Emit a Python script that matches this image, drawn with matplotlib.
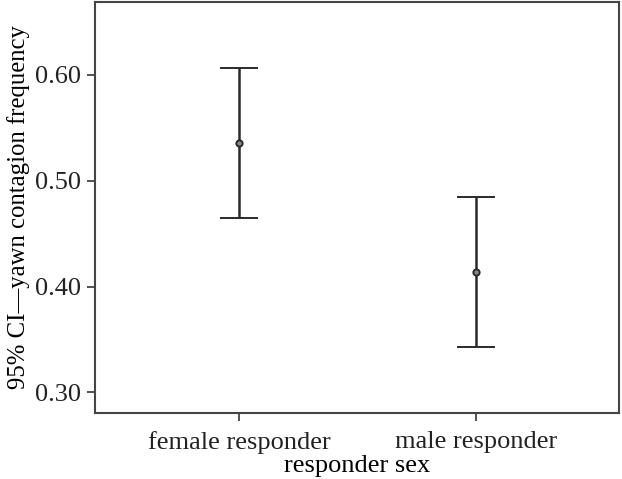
import matplotlib
matplotlib.use("Agg")
import matplotlib.pyplot as plt
import numpy as np

# group labels and 95% CI
groups = ["female responder", "male responder"]
means = [0.536, 0.414]
ci_low = [0.465, 0.343]
ci_high = [0.607, 0.485]
yticks = [0.30, 0.40, 0.50, 0.60]

plt.rcParams['font.family'] = ['Liberation Serif', 'DejaVu Serif']
plt.rcParams['font.size'] = 19

fig = plt.figure(figsize=(6.22, 4.79), dpi=100)
ax = fig.add_axes([95/622, 1 - 412.7/479, 524/622, 410.7/479])

x = np.arange(len(groups))
m = np.array(means)
err = np.vstack([m - np.array(ci_low), np.array(ci_high) - m])
ax.errorbar(x, m, yerr=err, fmt='o', color='#2a2a2a', ecolor='#2a2a2a',
            elinewidth=1.8, capsize=13.5, capthick=1.8,
            markersize=4.5, markerfacecolor='#888888', markeredgewidth=1.4)

ax.set_xlim(-0.608, 1.605)
ax.set_ylim(0.2808, 0.669)
ax.set_xticks(x)
ax.set_xticklabels(groups)
ax.set_yticks(yticks)
ax.set_yticklabels(["%.2f" % v for v in yticks])
ax.set_xlabel("responder sex", labelpad=1)
ax.set_ylabel("95% CI\u2014yawn contagion frequency", fontsize=17.8, labelpad=4)

for s in ax.spines.values():
    s.set_color('#444444')
    s.set_linewidth(1.5)
ax.tick_params(direction='out', length=6, width=1.3, color='#444444',
               colors='#222222', pad=4)
ax.tick_params(axis='x', pad=7)

fig.savefig("out.png", dpi=100)
